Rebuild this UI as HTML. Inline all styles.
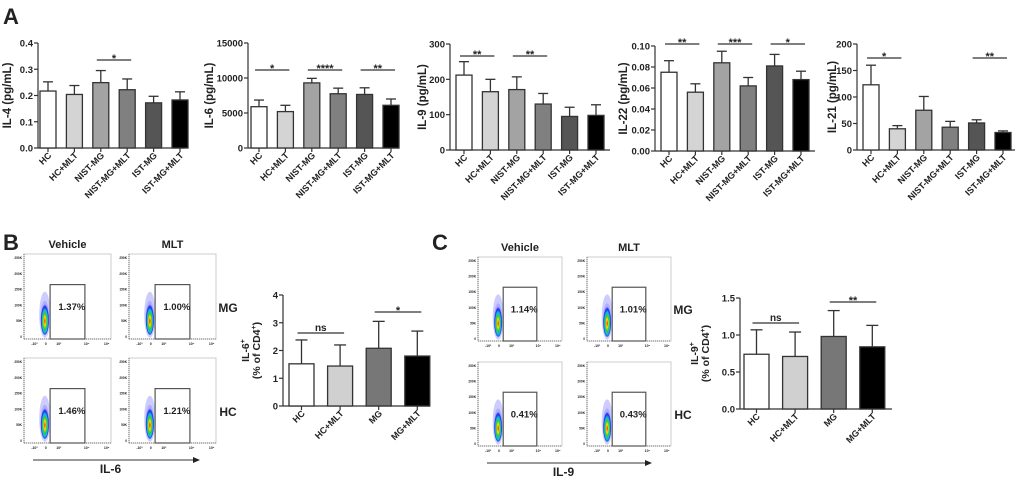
<!DOCTYPE html>
<html><head><meta charset="utf-8">
<style>
body{margin:0;background:#fff;}
svg{display:block;font-family:"Liberation Sans",Arial,sans-serif;}
text{font-weight:bold;fill:#222;}
</style></head>
<body>
<svg id="fig" width="1020" height="481" viewBox="0 0 1020 481">
<defs>
<radialGradient id="blob" cx="50%" cy="60%" r="50%">
<stop offset="0" stop-color="#d22"/><stop offset="0.25" stop-color="#fd0"/><stop offset="0.45" stop-color="#3c3"/><stop offset="0.65" stop-color="#1bd"/><stop offset="0.85" stop-color="#22e"/><stop offset="1" stop-color="#33f" stop-opacity="0.2"/>
</radialGradient>
</defs>
<text x="3" y="24" font-size="22">A</text>
<text x="3" y="250" font-size="22">B</text>
<text x="432" y="250" font-size="22">C</text>
</svg>
<script>
// ---- Panel A data ----
const groupsA = ["HC","HC+MLT","NIST-MG","NIST-MG+MLT","IST-MG","IST-MG+MLT"];
const il4Mean = [0.217,0.204,0.249,0.222,0.172,0.183];
const il4Err  = [0.252,0.238,0.295,0.263,0.197,0.214];
const il4Ticks = ["0.0","0.1","0.2","0.3","0.4"];
const il6Mean = [5900,5200,9300,7750,7650,6100];
const il6Err  = [6850,6100,9950,8550,8600,7000];
const il6Ticks = ["0","5000","10000","15000"];
const il9Mean = [212,165,171,130,95,98];
const il9Err  = [250,200,207,160,121,128];
const il9Ticks = ["0","100","200","300"];
const il22Mean = [0.075,0.056,0.084,0.062,0.081,0.068];
const il22Err  = [0.086,0.064,0.095,0.070,0.092,0.076];
const il22Ticks = ["0.00","0.02","0.04","0.06","0.08","0.10"];
const il21Mean = [123,40,75,43,51,33];
const il21Err  = [160,46,101,54,57,36];
const il21Ticks = ["0","50","100","150","200"];
// ---- Panel B/C data ----
const groupsBC = ["HC","HC+MLT","MG","MG+MLT"];
const il6PctMean = [1.52,1.44,2.08,1.80];
const il6PctErr  = [2.38,2.20,3.05,2.70];
const il6PctTicks = ["0","1","2","3","4"];
const il9PctMean = [0.74,0.71,0.98,0.84];
const il9PctErr  = [1.07,1.04,1.33,1.13];
const il9PctTicks = ["0.0","0.5","1.0","1.5"];
const flowB = ["1.37%","1.00%","1.46%","1.21%"];
const flowC = ["1.14%","1.01%","0.41%","0.43%"];

const NS="http://www.w3.org/2000/svg";
const svg=document.getElementById('fig');
function el(tag,attrs,parent){const e=document.createElementNS(NS,tag);for(const k in attrs)e.setAttribute(k,attrs[k]);(parent||svg).appendChild(e);return e;}

const colA=["#ffffff","#d4d4d4","#a3a3a3","#808080","#555555","#000000"];
const colBC=["#ffffff","#d0d0d0","#777777","#000000"];

function barChart(o){
  const g=el('g',{});
  
  
  const maxV=parseFloat(o.ticks[o.ticks.length-1]);
  const y=v=>o.y0-(v/maxV)*(o.y0-o.yTop);
  const x=i=>o.x0+o.off+i*o.pitch;
  const ya=el('line',{x1:o.ax,y1:o.yTop,x2:o.ax,y2:o.y0,stroke:'#333','stroke-width':1.2},g);
  
  const xa=el('line',{x1:o.ax,y1:o.y0,x2:o.xEnd,y2:o.y0,stroke:'#333','stroke-width':1.2},g);
  
  o.ticks.forEach(t=>{
    const yy=y(parseFloat(t));
    el('line',{x1:o.ax-4,y1:yy,x2:o.ax,y2:yy,stroke:'#333','stroke-width':1.2},g);
    const tx=el('text',{x:o.ax-5,y:yy+3.5,'font-size':o.tfs,'text-anchor':'end'},g);
    tx.textContent=t;
    
  });
  o.mean.forEach((m,i)=>{
    const cx=x(i)+o.bw/2;
    el('line',{x1:cx,y1:y(o.err[i]),x2:cx,y2:y(m),stroke:'#333','stroke-width':1.3},g);
    el('line',{x1:cx-o.cap,y1:y(o.err[i]),x2:cx+o.cap,y2:y(o.err[i]),stroke:'#333','stroke-width':1.3},g);
    const r=el('rect',{x:x(i),y:y(m),width:o.bw,height:o.y0-y(m),fill:o.cols[i],stroke:'#333','stroke-width':1.3},g);
    
    
    el('line',{x1:cx,y1:o.y0,x2:cx,y2:o.y0+4,stroke:'#333','stroke-width':1.2},g);
    const lx=cx+4,ly=o.y0+8;
    const t=el('text',{x:lx,y:ly,'font-size':o.fs,'text-anchor':'end',transform:`rotate(-45 ${lx} ${ly})`},g);
    t.textContent=o.groups[i];
    
  });
  o.sig.forEach(s=>{
    const a=x(s[0])+o.bw/2-4,b=x(s[1])+o.bw/2+4;
    el('line',{x1:a,y1:s[3],x2:b,y2:s[3],stroke:'#333','stroke-width':1.3},g);
    const t=el('text',{x:(a+b)/2,y:s[3]-(s[2]==='ns'?2:-2),'font-size':s[2]==='ns'?10:11,'text-anchor':'middle','font-weight':s[2]==='ns'?'normal':'bold'},g);
    t.textContent=s[2];
    
  });
  o.ylab.forEach((l,k)=>{
    const lx=o.ylx+k*11,ly=(o.yTop+o.y0)/2;
    const t=el('text',{x:lx,y:ly,'font-size':o.lfs,'text-anchor':'middle',transform:`rotate(-90 ${lx} ${ly})`},g);
    t.innerHTML=l;
    
  });
}
const common={groups:groupsA,cols:colA,bw:16,pitch:26.4,cap:5,fs:9,tfs:9.5,lfs:11.5};
barChart(Object.assign({},common,{name:'il4-chart',mean:il4Mean,err:il4Err,ticks:il4Ticks,ax:38,x0:38,off:2,xEnd:184,yTop:43,y0:148,ylx:11,ylab:['IL-4 (pg/mL)'],sig:[[2,3,'*',60]]}));
barChart(Object.assign({},common,{name:'il6-chart',mean:il6Mean,err:il6Err,ticks:il6Ticks,ax:248,x0:248,off:3,xEnd:399,yTop:43,y0:148,ylx:213,ylab:['IL-6 (pg/mL)'],sig:[[0,1,'*',70],[2,3,'****',70],[4,5,'**',70]]}));
barChart(Object.assign({},common,{name:'il9-chart',mean:il9Mean,err:il9Err,ticks:il9Ticks,ax:450,x0:450,off:6,xEnd:610,yTop:44,y0:150,ylx:426,ylab:['IL-9 (pg/mL)'],sig:[[0,1,'**',56],[2,3,'**',56]]}));
barChart(Object.assign({},common,{name:'il22-chart',mean:il22Mean,err:il22Err,ticks:il22Ticks,ax:655,x0:655,off:6,xEnd:815,yTop:46,y0:151,ylx:627,ylab:['IL-22 (pg/mL)'],sig:[[0,1,'**',44],[2,3,'***',44],[4,5,'*',44]]}));
barChart(Object.assign({},common,{name:'il21-chart',mean:il21Mean,err:il21Err,ticks:il21Ticks,ax:857,x0:857,off:6,xEnd:1015,yTop:44,y0:150,ylx:836,ylab:['IL-21 (pg/mL)'],sig:[[0,1,'*',58],[4,5,'**',58]]}));
const cBC={groups:groupsBC,cols:colBC,bw:25,pitch:38.6,cap:6,fs:9,tfs:9.5,lfs:10.5};
barChart(Object.assign({},cBC,{name:'il6-percent-chart',mean:il6PctMean,err:il6PctErr,ticks:il6PctTicks,ax:283,x0:283,off:6,xEnd:430,yTop:295,y0:406,ylx:249,ylab:['IL-6<tspan font-size="7" dy="-4">+</tspan>','(% of CD4<tspan font-size="7" dy="-4">+</tspan><tspan dy="4">)</tspan>'],sig:[[0,1,'ns',333],[2,3,'*',312]]}));
barChart(Object.assign({},cBC,{name:'il9-percent-chart',mean:il9PctMean,err:il9PctErr,ticks:il9PctTicks,ax:740,x0:740,off:4,xEnd:892,yTop:298,y0:409,ylx:698,ylab:['IL-9<tspan font-size="7" dy="-4">+</tspan>','(% of CD4<tspan font-size="7" dy="-4">+</tspan><tspan dy="4">)</tspan>'],sig:[[0,1,'ns',323],[2,3,'**',302]]}));

function flow(o){
  const g=el('g',{});
  
  el('rect',{x:o.x,y:o.y,width:o.w,height:o.h,fill:'#fff',stroke:'#ccc','stroke-width':1},g);
  el('line',{x1:o.x,y1:o.y,x2:o.x,y2:o.y+o.h,stroke:'#555','stroke-width':0.8,'stroke-dasharray':'1 1'},g);
  el('line',{x1:o.x,y1:o.y+o.h,x2:o.x+o.w,y2:o.y+o.h,stroke:'#555','stroke-width':0.8,'stroke-dasharray':'1 1'},g);
  ["250K","200K","150K","100K","50K","0"].forEach((t,i)=>{
    const yy=o.y+4+i*(o.h-6)/5;
    const tx=el('text',{x:o.x-2,y:yy+1,'font-size':3.2,'text-anchor':'end','font-weight':'normal'},g);tx.textContent=t;
  });
  ["-10³","0","10³","10⁴","10⁵"].forEach((t,i)=>{
    const xx=o.x+[0.12,0.25,0.4,0.72,0.95][i]*o.w;
    const tx=el('text',{x:xx,y:o.y+o.h+6,'font-size':3.5,'text-anchor':'middle','font-weight':'normal'},g);tx.textContent=t;
  });
  const bx=o.x+0.24*o.w, by=o.y+0.75*o.h;
  el('ellipse',{cx:bx,cy:by-3,rx:o.w*0.065,ry:o.h*0.27,fill:'#55f','opacity':0.3},g);
  el('ellipse',{cx:bx,cy:by,rx:o.w*0.05,ry:o.h*0.2,fill:'url(#blob)'},g);
  const gate=el('rect',{x:o.x+0.3*o.w,y:o.y+0.36*o.h,width:0.4*o.w,height:0.64*o.h,fill:'none',stroke:'#555','stroke-width':1.2},g);
  
  const t=el('text',{x:o.x+0.55*o.w,y:o.y+0.66*o.h,'font-size':9.5,'text-anchor':'middle'},g);
  t.textContent=o.pct;
}
function flowPanel(p){
  const cols=[p.x1,p.x2],rows=[p.y1,p.y2];
  let k=0;
  rows.forEach((ry,r)=>cols.forEach((cx,c)=>{flow({name:p.name+'-plot-'+k,x:cx,y:ry,w:p.w,h:p.h,pct:p.pcts[k]});k++;}));
  [['Vehicle',p.x1],['MLT',p.x2]].forEach(([s,xx])=>{const t=el('text',{x:xx+p.w/2,y:p.y1-6,'font-size':11,'text-anchor':'middle'});t.textContent=s;});
  [['MG',p.y1],['HC',p.y2]].forEach(([s,yy])=>{const t=el('text',{x:p.x2+p.w+12,y:yy+p.h*0.68,'font-size':12,'text-anchor':'middle'});t.textContent=s;});
  const a=el('line',{x1:p.ax1,y1:p.ay,x2:p.ax2-5,y2:p.ay,stroke:'#333','stroke-width':1});
  
  el('polygon',{points:`${p.ax2},${p.ay} ${p.ax2-7},${p.ay-3} ${p.ax2-7},${p.ay+3}`,fill:'#222'});
  const t=el('text',{x:(p.ax1+p.ax2)/2-6,y:p.ay+13,'font-size':12,'text-anchor':'middle'});t.textContent=p.xl;
  
}
flowPanel({name:'flow-b',x1:24,x2:129,y1:254,y2:358,w:87,h:85,pcts:flowB,ax1:33,ax2:200,ay:460,xl:'IL-6'});
flowPanel({name:'flow-c',x1:478,x2:587,y1:257,y2:362,w:84,h:84,pcts:flowC,ax1:487,ax2:652,ay:463,xl:'IL-9'});
</script>
</body></html>
